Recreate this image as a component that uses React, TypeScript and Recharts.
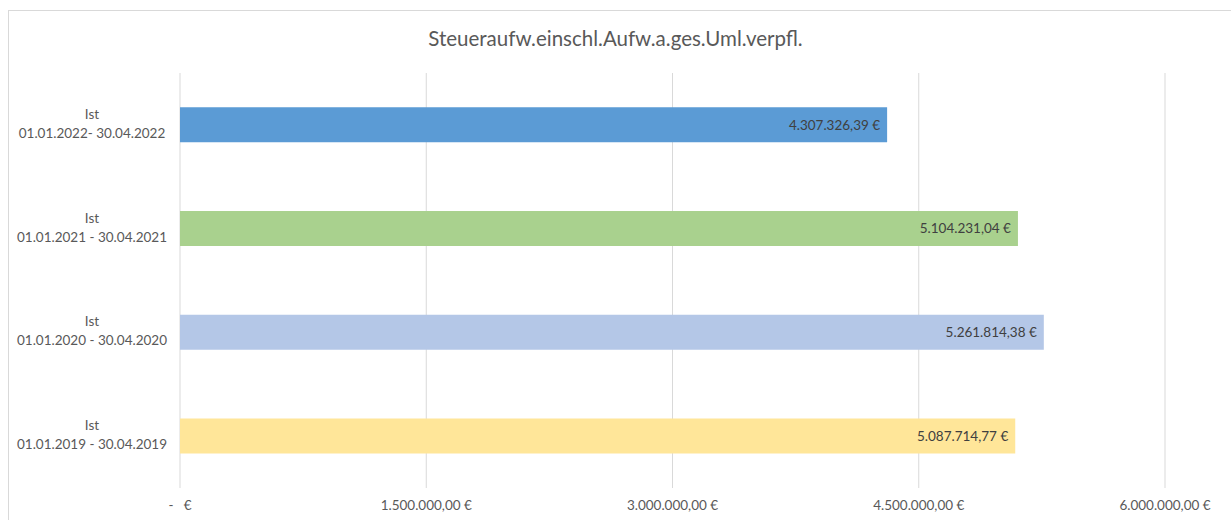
import { Bar, BarChart, CartesianGrid, Cell, LabelList, XAxis, YAxis } from 'recharts'

const periods = [
  '01.01.2022- 30.04.2022',
  '01.01.2021 - 30.04.2021',
  '01.01.2020 - 30.04.2020',
  '01.01.2019 - 30.04.2019',
]
const amounts = [4307326.39, 5104231.04, 5261814.38, 5087714.77]
const barColors = ['#5b9bd5', '#a9d18e', '#b4c7e7', '#ffe699']
const xTicks = [0, 1500000, 3000000, 4500000, 6000000]

const data = periods.map((p, i) => ({ name: p, value: amounts[i] }))

const FONT = 'Lato, "Open Sans", sans-serif'
const TEXT = '#595959'

function euro(v: number) {
  if (v === 0) return '-\u00a0\u00a0\u00a0€'
  const [int, dec] = v.toFixed(2).split('.')
  return `${int.replace(/\B(?=(\d{3})+(?!\d))/g, '.')},${dec} €`
}

function PeriodTick({ y, payload }: any) {
  return (
    <text x={92} y={y} textAnchor="middle" fill={TEXT} fontSize={13.5} fontFamily={FONT}>
      <tspan x={92} dy={-6}>Ist</tspan>
      <tspan x={92} dy={19}>{payload.value}</tspan>
    </text>
  )
}

export default function App() {
  return (
    <div style={{ position: 'absolute', left: 0, top: 0, width: 1231, height: 520, background: '#fff', overflow: 'hidden' }}>
      <div
        style={{
          position: 'absolute',
          left: 8,
          top: 10,
          width: 1240,
          height: 540,
          border: '1px solid #d9d9d9',
        }}
      />
      <div
        style={{
          position: 'absolute',
          top: 26,
          left: 0,
          width: 1231,
          textAlign: 'center',
          fontFamily: FONT,
          fontSize: 20.5,
          color: TEXT,
        }}
      >
        Steueraufw.einschl.Aufw.a.ges.Uml.verpfl.
      </div>
      <div style={{ position: 'absolute', left: 0, top: 0 }}>
        <BarChart
          width={1231}
          height={520}
          data={data}
          layout="vertical"
          margin={{ top: 73, right: 66, left: 8, bottom: 2 }}
          barCategoryGap="33%"
        >
          <CartesianGrid horizontal={false} stroke="#d9d9d9" />
          <XAxis
            type="number"
            domain={[0, 6000000]}
            ticks={xTicks}
            tickFormatter={euro}
            axisLine={false}
            tickLine={false}
            height={30}
            tick={{ fill: TEXT, fontSize: 13.5, fontFamily: FONT }}
            tickMargin={6}
            interval={0}
          />
          <YAxis
            type="category"
            dataKey="name"
            width={172}
            axisLine={false}
            tickLine={false}
            tick={<PeriodTick />}
          />
          <Bar dataKey="value" isAnimationActive={false}>
            {data.map((d, i) => (
              <Cell key={d.name} fill={barColors[i]} />
            ))}
            <LabelList
              dataKey="value"
              position="insideRight"
              offset={7}
              formatter={(v: any) => euro(Number(v))}
              fill="#404040"
              fontSize={13.5}
              fontFamily={FONT}
            />
          </Bar>
        </BarChart>
      </div>
    </div>
  )
}
